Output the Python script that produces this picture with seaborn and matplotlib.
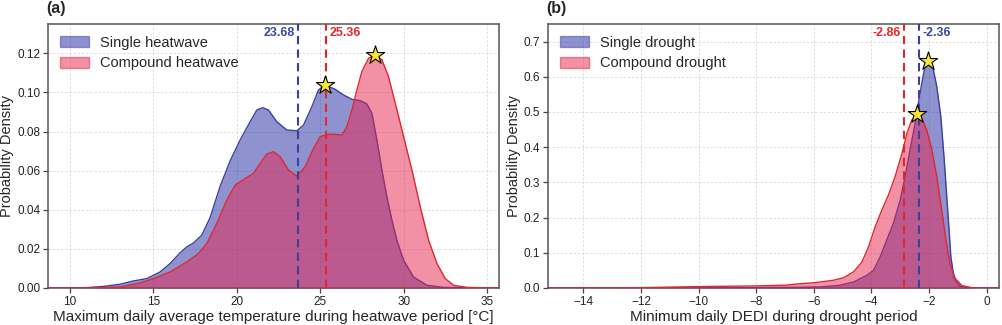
import numpy as np
import pandas as pd
import matplotlib
matplotlib.use("Agg")
import matplotlib.pyplot as plt
import seaborn as sns
from matplotlib.patches import Patch

sns.set_theme(style="whitegrid")
plt.rcParams['font.family'] = ['Liberation Sans', 'DejaVu Sans']

# ---------------- Panel (a): heatwave temperature densities ----------------
hw_x_single = [8.7, 10.0, 11.0, 12.0, 13.0, 13.8, 14.6, 15.4, 16.0, 16.6, 17.0, 17.4, 17.9, 18.4,
               19.0, 19.6, 20.2, 20.8, 21.2, 21.55, 21.9, 22.4, 23.0, 23.6, 24.0, 24.5, 24.9,
               25.29, 25.9, 26.4, 26.9, 27.4, 27.8, 28.1, 28.4, 28.7, 29.0, 29.3, 29.6, 30.0,
               30.6, 31.4, 32.4, 35.7]
hw_y_single = [0.0, 0.0, 0.0002, 0.0008, 0.0019, 0.0036, 0.0048, 0.0082, 0.0125, 0.018, 0.021,
               0.023, 0.027, 0.036, 0.052, 0.065, 0.0757, 0.085, 0.091, 0.0922, 0.091, 0.085,
               0.0808, 0.0804, 0.0833, 0.0927, 0.1013, 0.1038, 0.1016, 0.0987, 0.0965, 0.0958,
               0.0941, 0.0893, 0.0757, 0.0603, 0.0466, 0.0347, 0.0244, 0.0142, 0.0056, 0.0014,
               0.0003, 0.0]

hw_x_comp = [8.7, 10.0, 11.5, 13.0, 14.2, 15.0, 16.0, 17.0, 17.7, 18.2, 18.8, 19.4, 19.9, 20.5,
             21.0, 21.4, 21.8, 22.2, 22.6, 23.1, 23.6, 24.1, 24.6, 25.0, 25.4, 25.8, 26.3,
             26.6, 26.9, 27.2, 27.5, 27.9, 28.3, 28.7, 29.1, 29.5, 30.0, 30.5, 31.0, 31.5,
             32.0, 32.5, 33.0, 33.8, 35.7]
hw_y_comp = [0.0, 0.0, 0.0001, 0.0005, 0.0026, 0.0048, 0.0082, 0.0133, 0.0176, 0.0227, 0.033,
             0.0449, 0.0526, 0.056, 0.0586, 0.0637, 0.0685, 0.0697, 0.0671, 0.0603, 0.0572,
             0.062, 0.0714, 0.0774, 0.0785, 0.0787, 0.0782, 0.0825, 0.091, 0.1013, 0.1107,
             0.1175, 0.1192, 0.1167, 0.108, 0.0945, 0.0774, 0.0603, 0.0415, 0.0244, 0.0125,
             0.0048, 0.0014, 0.0003, 0.0]

hw_mean_single = 23.68
hw_mean_comp = 25.36
hw_peak_single = (25.29, 0.1038)
hw_peak_comp = (28.29, 0.1192)

# ---------------- Panel (b): drought DEDI densities ----------------
dr_x_single = [-15.2, -14.0, -10.0, -8.0, -6.5, -5.78, -5.09, -4.62, -4.16, -3.93, -3.70, -3.47,
               -3.24, -3.0, -2.83, -2.66, -2.48, -2.37, -2.25, -2.14, -2.02, -1.87, -1.73,
               -1.59, -1.48, -1.36, -1.24, -1.13, -0.92, -0.57, 0.4]
dr_y_single = [0.0, 0.0, 0.0003, 0.001, 0.002, 0.003, 0.0077, 0.017, 0.036, 0.050, 0.088, 0.136,
               0.183, 0.250, 0.316, 0.392, 0.468, 0.525, 0.582, 0.629, 0.646, 0.629, 0.572,
               0.487, 0.373, 0.231, 0.088, 0.027, 0.005, 0.0, 0.0]

dr_x_comp = [-15.2, -14.0, -12.0, -10.0, -8.0, -7.0, -6.5, -6.0, -5.78, -5.32, -4.97, -4.62,
             -4.33, -4.10, -3.87, -3.64, -3.41, -3.18, -2.94, -2.77, -2.60, -2.42, -2.25,
             -2.08, -1.90, -1.73, -1.56, -1.41, -1.27, -1.09, -0.86, -0.46, 0.4]
dr_y_comp = [0.0, 0.0003, 0.001, 0.004, 0.006, 0.008, 0.012, 0.015, 0.017, 0.022, 0.029, 0.046,
             0.074, 0.117, 0.174, 0.221, 0.264, 0.316, 0.382, 0.439, 0.477, 0.493, 0.482,
             0.449, 0.392, 0.316, 0.221, 0.136, 0.069, 0.027, 0.007, 0.0, 0.0]

dr_mean_single = -2.36
dr_mean_comp = -2.86
dr_peak_single = (-2.02, 0.646)
dr_peak_comp = (-2.42, 0.493)

BLUE_EDGE = "#3a3fa0"
BLUE_FILL = "#1f26a0"
RED_EDGE = "#e0282c"
RED_FILL = "#e6234e"
BLUE_TXT = "#3b4a9c"
RED_TXT = "#e02a2a"
STAR = "#f7e633"

fig = plt.figure(figsize=(10.02, 3.25), dpi=100)
ax1 = fig.add_axes([48/1002, 1-288/325, (499-48)/1002, (288-24)/325])
ax2 = fig.add_axes([548/1002, 1-288/325, (999-548)/1002, (288-24)/325])


def panel(ax, xs, ys, xc, yc, m_s, m_c, pk_s, pk_c, lab_s, lab_c, xlim, ylim, xticks, yticks,
          yfmt, xlabel, single_text_left):
    df_s = pd.DataFrame({"x": xs, "y": ys})
    df_c = pd.DataFrame({"x": xc, "y": yc})
    ax.fill_between(df_s["x"], df_s["y"], color=BLUE_FILL, alpha=0.5, lw=0, zorder=2)
    sns.lineplot(data=df_s, x="x", y="y", ax=ax, color=BLUE_EDGE, lw=1.0, zorder=3)
    ax.fill_between(df_c["x"], df_c["y"], color=RED_FILL, alpha=0.5, lw=0, zorder=4)
    sns.lineplot(data=df_c, x="x", y="y", ax=ax, color=RED_EDGE, lw=1.0, zorder=5)
    ax.axvline(m_s, color=BLUE_EDGE, ls=(0, (4, 2.5)), lw=1.5, zorder=6)
    ax.axvline(m_c, color=RED_EDGE, ls=(0, (4, 2.5)), lw=1.5, zorder=6)
    sns.scatterplot(x=[pk_s[0], pk_c[0]], y=[pk_s[1], pk_c[1]], ax=ax, marker="*", s=190,
                    color=STAR, edgecolor="black", linewidth=0.8, zorder=8)
    off = 0.008 * (xlim[1] - xlim[0])
    ty = 0.966
    tr = ax.get_xaxis_transform()
    if single_text_left:
        ax.text(m_s - off, ty, f"{m_s:.2f}", color=BLUE_TXT, fontweight="bold", fontsize=9,
                ha="right", va="center", transform=tr)
        ax.text(m_c + off, ty, f"{m_c:.2f}", color=RED_TXT, fontweight="bold", fontsize=9,
                ha="left", va="center", transform=tr)
    else:
        ax.text(m_s + off, ty, f"{m_s:.2f}", color=BLUE_TXT, fontweight="bold", fontsize=9,
                ha="left", va="center", transform=tr)
        ax.text(m_c - off, ty, f"{m_c:.2f}", color=RED_TXT, fontweight="bold", fontsize=9,
                ha="right", va="center", transform=tr)
    ax.set_xlim(*xlim)
    ax.set_ylim(*ylim)
    ax.set_xticks(xticks)
    ax.set_yticks(yticks)
    ax.set_yticklabels([yfmt.format(v) for v in yticks])
    ax.set_xlabel(xlabel, fontsize=11, labelpad=2)
    ax.set_ylabel("Probability Density", fontsize=10.5, labelpad=2)
    ax.tick_params(axis="both", labelsize=8.5, direction="out", length=3.5, width=0.9,
                   color="#444444", pad=2, bottom=True, left=True, labelcolor="#222222")
    ax.grid(True, color="#d0d0d0", ls=(0, (3, 2)), lw=0.6, alpha=0.8)
    ax.set_facecolor("white")
    for sp in ax.spines.values():
        sp.set_color("#555555")
        sp.set_linewidth(1.1)
    handles = [Patch(facecolor=BLUE_FILL, alpha=0.5, edgecolor=BLUE_EDGE, lw=1.0),
               Patch(facecolor=RED_FILL, alpha=0.5, edgecolor=RED_EDGE, lw=1.0)]
    leg = ax.legend(handles, [lab_s, lab_c], loc="upper left", frameon=False, fontsize=10.5,
                    handlelength=2.0, handleheight=0.75, handletextpad=0.75, labelspacing=0.45,
                    borderaxespad=0.0, bbox_to_anchor=(0.014, 0.977))
    for h in leg.legend_handles:
        h.set_edgecolor(h.get_edgecolor()[:3] + (1.0,))


panel(ax1, hw_x_single, hw_y_single, hw_x_comp, hw_y_comp, hw_mean_single, hw_mean_comp,
      hw_peak_single, hw_peak_comp, "Single heatwave", "Compound heatwave",
      (8.68, 35.72), (0, 0.135), [10, 15, 20, 25, 30, 35],
      [0.00, 0.02, 0.04, 0.06, 0.08, 0.10, 0.12], "{:.2f}",
      "Maximum daily average temperature during heatwave period [°C]", True)

panel(ax2, dr_x_single, dr_y_single, dr_x_comp, dr_y_comp, dr_mean_single, dr_mean_comp,
      dr_peak_single, dr_peak_comp, "Single drought", "Compound drought",
      (-15.23, 0.43), (0, 0.75), [-14, -12, -10, -8, -6, -4, -2, 0],
      [0.0, 0.1, 0.2, 0.3, 0.4, 0.5, 0.6, 0.7], "{:.1f}",
      "Minimum daily DEDI during drought period", False)

fig.text(46/1002, 1-8/325, "(a)", fontsize=11.5, fontweight="bold", ha="left", va="center")
fig.text(546/1002, 1-8/325, "(b)", fontsize=11.5, fontweight="bold", ha="left", va="center")

fig.savefig("out.png", dpi=100, facecolor="white")
